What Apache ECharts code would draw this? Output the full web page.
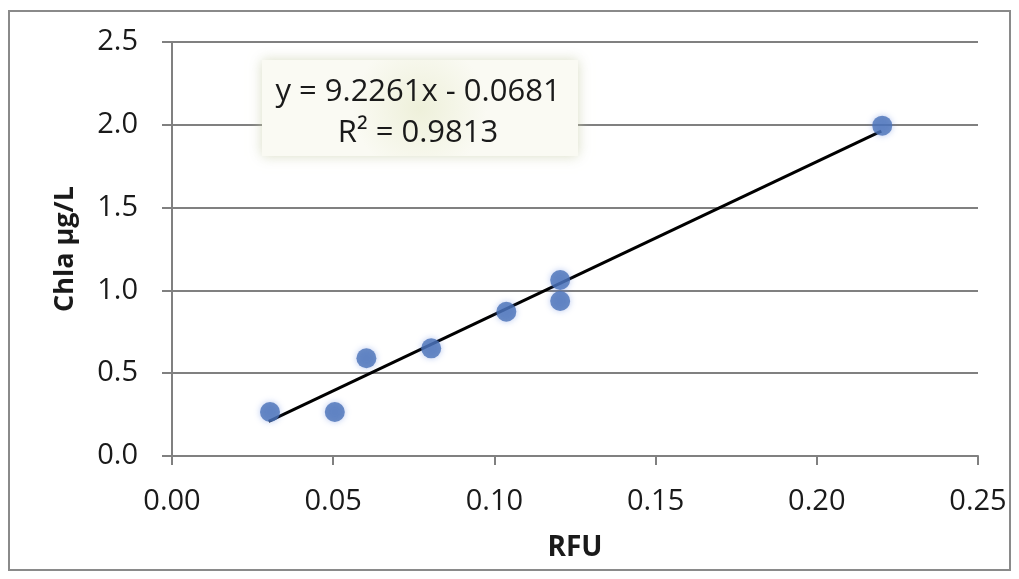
<!DOCTYPE html>
<html><head><meta charset="utf-8">
<script src="https://cdn.jsdelivr.net/npm/echarts@6/dist/echarts.min.js"></script>
<style>
html,body{margin:0;padding:0;background:#fff;}
#frame{position:absolute;left:8px;top:10px;width:1003px;height:561px;border:2px solid #8a8a8a;box-sizing:border-box;}
#c{position:absolute;left:0;top:0;width:1019px;height:579px;}
</style></head>
<body>
<div id="frame"></div>
<div id="c"></div>
<script>
var rfu = [0.0304, 0.0505, 0.0603, 0.0804, 0.1037, 0.1204, 0.1204, 0.2203];
var chla = [0.266, 0.266, 0.59, 0.65, 0.871, 1.063, 0.936, 1.995];
var slope = 9.2261, intercept = -0.0681;
var trendX = [0.03, 0.22];
var eqText = 'y = 9.2261x - 0.0681';
var r2Text = 'R² = 0.9813';
var xTicks = ['0.00','0.05','0.10','0.15','0.20','0.25'];

var pts = rfu.map(function(x,i){return [x, chla[i]];});
var trend = trendX.map(function(x){return [x, slope*x+intercept];});
var font = '"Open Sans", "Noto Sans", sans-serif';

var chart = echarts.init(document.getElementById('c'));
chart.setOption({
  animation:false,
  grid:{left:172,right:41,top:42,bottom:123},
  xAxis:{type:'value',min:0,max:0.25,interval:0.05,
    name:'RFU',nameLocation:'middle',nameGap:78,
    nameTextStyle:{fontFamily:font,fontWeight:'bold',fontSize:28,color:'#1a1a1a'},
    axisLine:{show:true,lineStyle:{color:'#808080',width:2}},
    axisTick:{show:true,length:9,lineStyle:{color:'#808080',width:2}},
    axisLabel:{fontFamily:font,fontSize:29,color:'#1a1a1a',margin:31,
      formatter:function(v){var i=Math.round(v/0.05);return xTicks[i];}},
    splitLine:{show:false}},
  yAxis:{type:'value',min:0,max:2.5,interval:0.5,
    name:'Chla µg/L',nameLocation:'middle',nameGap:93,
    nameTextStyle:{fontFamily:font,fontWeight:'bold',fontSize:27,color:'#1a1a1a'},
    axisLine:{show:true,lineStyle:{color:'#808080',width:2}},
    axisTick:{show:true,length:10,lineStyle:{color:'#808080',width:2}},
    axisLabel:{fontFamily:font,fontSize:29,color:'#1a1a1a',margin:34,
      formatter:function(v){return v.toFixed(1);}},
    splitLine:{show:true,lineStyle:{color:'#808080',width:2}}},
  series:[
    {type:'line',data:trend,symbol:'none',lineStyle:{color:'#000',width:3},z:3},
    {type:'scatter',data:pts,symbolSize:20,itemStyle:{color:'#4a72b8',shadowBlur:6,shadowColor:'rgba(80,120,220,0.5)'},z:4}
  ],
  graphic:[
    {type:'rect',left:262,top:60,shape:{width:316,height:96},
     style:{fill:{type:'radial',x:0.5,y:0.5,r:0.7,colorStops:[{offset:0,color:'#eef0da'},{offset:1,color:'#fafaf3'}]},
       shadowBlur:12,shadowColor:'rgba(200,205,170,0.7)'},z:5},
    {type:'text',x:418,y:92,style:{text:eqText,font:'31px '+font,fill:'#1a1a1a',textAlign:'center',textVerticalAlign:'middle'},z:6},
    {type:'text',x:418,y:133,style:{text:r2Text,font:'31px '+font,fill:'#1a1a1a',textAlign:'center',textVerticalAlign:'middle'},z:6}
  ]
});
</script>
</body></html>
